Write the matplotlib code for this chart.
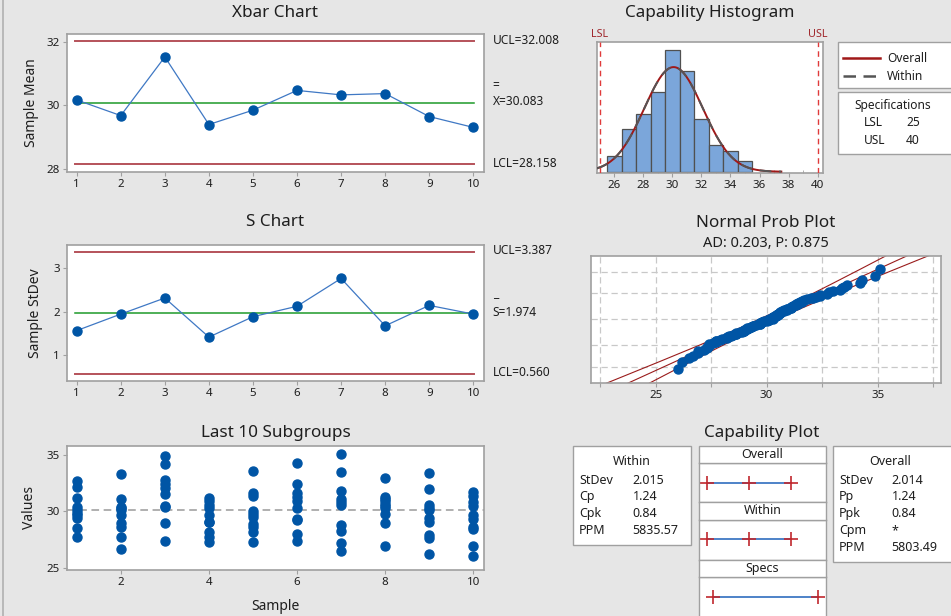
import numpy as np
import matplotlib
matplotlib.use("Agg")
import matplotlib.pyplot as plt
from matplotlib.lines import Line2D
from matplotlib.patches import Rectangle
from statistics import NormalDist

# ---------------- data ----------------
samples = list(range(1, 11))
xbar_means = [30.17, 29.68, 31.52, 29.40, 29.85, 30.47, 30.33, 30.37, 29.65, 29.31]
xbar_ucl, xbar_center, xbar_lcl = 32.008, 30.083, 28.158
s_values = [1.57, 1.95, 2.32, 1.42, 1.89, 2.13, 2.77, 1.68, 2.15, 1.95]
s_ucl, s_center, s_lcl = 3.387, 1.974, 0.560

subgroups = [
    [32.7, 32.2, 31.2, 30.4, 30.1, 29.9, 29.7, 29.4, 28.5, 27.7],
    [33.3, 31.1, 30.3, 30.4, 30.1, 29.7, 29.0, 28.6, 27.7, 26.7],
    [34.9, 34.2, 32.8, 32.4, 32.1, 31.5, 30.5, 30.4, 29.0, 27.4],
    [31.2, 30.9, 30.6, 30.3, 29.7, 29.1, 29.1, 28.2, 27.7, 27.3],
    [33.6, 31.6, 31.4, 30.0, 29.8, 29.5, 28.9, 28.6, 28.2, 27.3],
    [34.3, 32.4, 31.6, 31.3, 30.9, 30.3, 29.3, 29.2, 28.0, 27.4],
    [35.1, 33.5, 31.8, 31.1, 30.8, 30.6, 28.8, 28.3, 27.2, 26.5],
    [33.0, 31.3, 31.1, 30.9, 30.7, 30.5, 30.3, 29.8, 29.0, 26.9],
    [33.4, 32.0, 30.6, 30.3, 30.1, 29.4, 29.1, 27.9, 27.6, 26.2],
    [31.7, 31.4, 30.8, 30.5, 29.7, 29.3, 28.6, 28.4, 26.9, 26.0],
]

hist_bin_centers = [26, 27, 28, 29, 30, 31, 32, 33, 34, 35]
hist_counts = [3, 8, 11, 15, 23, 19, 10, 5, 4, 2]
lsl, usl = 25, 40
mean_all = 30.083
sd_within, sd_overall = 2.015, 2.014
n_total = 100

hist_ticks = [26, 28, 30, 32, 34, 36, 38, 40]
prob_levels = [1, 10, 50, 90, 99]
prob_ticks = [25, 30, 35]
ad_text = "AD: 0.203, P: 0.875"

within_labels = ["StDev", "Cp", "Cpk", "PPM"]
within_values = ["2.015", "1.24", "0.84", "5835.57"]
overall_labels = ["StDev", "Pp", "Ppk", "Cpm", "PPM"]
overall_values = ["2.014", "1.24", "0.84", "*", "5803.49"]

# ---------------- style ----------------
W, H = 951, 616
BG = "#E6E6E6"
SPINE = "#A0A0A0"
RED_CL = "#B5525A"
GREEN = "#1E9A2A"
BLUE_LINE = "#3F78C4"
BLUE_DOT = "#0055A5"
TXT = "#1E1E1E"
FONT = ["Noto Sans", "DejaVu Sans"]
plt.rcParams["font.family"] = FONT

TITLE_FS = 12.3
LABEL_FS = 10
TICK_FS = 8.3
SIDE_FS = 8.6
BOX_FS = 9

fig = plt.figure(figsize=(W / 100, H / 100), dpi=100, facecolor=BG)


def px_axes(l, t, r, b, **kw):
    return fig.add_axes([l / W, 1 - b / H, (r - l) / W, (b - t) / H], **kw)


def ftext(x, y, s, **kw):
    kw.setdefault("color", TXT)
    return fig.text(x / W, 1 - y / H, s, **kw)


def style_axes(ax):
    ax.set_facecolor("white")
    for sp in ax.spines.values():
        sp.set_color(SPINE)
        sp.set_linewidth(1.2)
    ax.tick_params(colors=SPINE, labelcolor=TXT, labelsize=TICK_FS, length=3, width=0.8, pad=2)


# left window border
fig.add_artist(Line2D([3 / W, 3 / W], [0, 1], color="#B0B0B0", lw=1.2))

# ---------------- Xbar chart ----------------
ax1 = px_axes(66.7, 34.3, 484.3, 171.7)
style_axes(ax1)
ax1.axhline(xbar_ucl, color=RED_CL, lw=1.4, xmin=0.02, xmax=0.975)
ax1.axhline(xbar_lcl, color=RED_CL, lw=1.4, xmin=0.02, xmax=0.975)
ax1.axhline(xbar_center, color=GREEN, lw=1.1, xmin=0.02, xmax=0.975)
ax1.plot(samples, xbar_means, color=BLUE_LINE, lw=0.9, marker="o", ms=6.5,
         mfc=BLUE_DOT, mec=BLUE_DOT)
ax1.set_xlim(0.773, 10.25)
ax1.set_ylim(27.92, 32.23)
ax1.set_xticks(samples)
ax1.set_yticks([28, 30, 32])
ax1.set_ylabel("Sample Mean", fontsize=LABEL_FS, color=TXT, labelpad=5)
ftext(275.5, 13, "Xbar Chart", fontsize=TITLE_FS, ha="center", va="center")
ftext(492.7, 40, "UCL=32.008", fontsize=SIDE_FS, va="center")
ftext(492.7, 86, "=", fontsize=SIDE_FS, va="center")
ftext(492.7, 101.7, "X=30.083", fontsize=SIDE_FS, va="center")
ftext(492.7, 163.3, "LCL=28.158", fontsize=SIDE_FS, va="center")

# ---------------- S chart ----------------
ax2 = px_axes(66.7, 245, 484.3, 381)
style_axes(ax2)
ax2.axhline(s_ucl, color=RED_CL, lw=1.4, xmin=0.02, xmax=0.975)
ax2.axhline(s_lcl, color=RED_CL, lw=1.4, xmin=0.02, xmax=0.975)
ax2.axhline(s_center, color=GREEN, lw=1.1, xmin=0.02, xmax=0.975)
ax2.plot(samples, s_values, color=BLUE_LINE, lw=0.9, marker="o", ms=6.5,
         mfc=BLUE_DOT, mec=BLUE_DOT)
ax2.set_xlim(0.773, 10.25)
ax2.set_ylim(0.41, 3.54)
ax2.set_xticks(samples)
ax2.set_yticks([1, 2, 3])
ax2.set_ylabel("Sample StDev", fontsize=LABEL_FS, color=TXT, labelpad=7)
ftext(275.5, 221.7, "S Chart", fontsize=TITLE_FS, ha="center", va="center")
ftext(492.7, 250, "UCL=3.387", fontsize=SIDE_FS, va="center")
ftext(492.7, 294, "_", fontsize=SIDE_FS, va="center")
ftext(492.7, 312.7, "S=1.974", fontsize=SIDE_FS, va="center")
ftext(492.7, 372.3, "LCL=0.560", fontsize=SIDE_FS, va="center")

# ---------------- Last 10 subgroups ----------------
ax3 = px_axes(66.7, 445.7, 484.3, 570)
style_axes(ax3)
ax3.axhline(mean_all, color="#9A9A9A", lw=1.1, ls=(0, (5, 3)))
for i, vals in zip(samples, subgroups):
    ax3.plot([i] * len(vals), vals, ls="none", marker="o", ms=6.5,
             mfc=BLUE_DOT, mec=BLUE_DOT)
ax3.set_xlim(0.773, 10.25)
ax3.set_ylim(24.8, 35.83)
ax3.set_xticks([2, 4, 6, 8, 10])
ax3.set_yticks([25, 30, 35])
ax3.set_ylabel("Values", fontsize=LABEL_FS, color=TXT, labelpad=7)
ax3.set_xlabel("Sample", fontsize=LABEL_FS, color=TXT, labelpad=8)
ftext(275.5, 432.7, "Last 10 Subgroups", fontsize=TITLE_FS, ha="center", va="center")

# ---------------- Capability histogram ----------------
ax4 = px_axes(596.7, 42.3, 823.3, 173.3)
style_axes(ax4)
ax4.bar(hist_bin_centers, hist_counts, width=1.0, color="#7BA6DA",
        edgecolor="#505050", lw=0.9, zorder=2)
xx = np.linspace(24.79, 37.5, 400)
scale = n_total * 1.0
pdf_over = scale * np.exp(-0.5 * ((xx - mean_all) / sd_overall) ** 2) / (sd_overall * np.sqrt(2 * np.pi))
pdf_with = scale * np.exp(-0.5 * ((xx - mean_all) / sd_within) ** 2) / (sd_within * np.sqrt(2 * np.pi))
ax4.plot(xx, pdf_over, color="#A01818", lw=1.4, zorder=3)
ax4.plot(xx, pdf_with, color="#555555", lw=1.4, ls=(0, (6, 4)), zorder=4)
ax4.axvline(lsl, color="#E03A3A", lw=1.0, ls=(0, (4, 3)), zorder=5)
ax4.axvline(usl, color="#E03A3A", lw=1.0, ls=(0, (4, 3)), zorder=5)
ax4.set_xlim(24.79, 40.39)
ax4.set_ylim(-0.3, 24.5)
ax4.set_xticks(hist_ticks)
ax4.set_xticks(np.arange(27, 40, 2), minor=True)
ax4.tick_params(axis="x", which="minor", direction="in", length=2, color=SPINE)
ax4.set_yticks([])
ftext(710, 13.3, "Capability Histogram", fontsize=TITLE_FS, ha="center", va="center")
ax4.text(lsl, 1.02, "LSL", transform=ax4.get_xaxis_transform(), ha="center", va="bottom",
         fontsize=7.8, color="#A0282D")
ax4.text(usl, 1.02, "USL", transform=ax4.get_xaxis_transform(), ha="center", va="bottom",
         fontsize=7.8, color="#A0282D")

# legend box
fig.add_artist(Rectangle((838.3 / W, 1 - 88.3 / H), 120 / W, 46 / H, transform=fig.transFigure,
                         facecolor="white", edgecolor=SPINE, lw=1.0))
fig.add_artist(Line2D([843.3 / W, 880 / W], [1 - 58 / H, 1 - 58 / H], color="#A01818", lw=1.8))
fig.add_artist(Line2D([843.3 / W, 880 / W], [1 - 76 / H, 1 - 76 / H], color="#555555", lw=1.8,
                      ls=(0, (5, 3))))
ftext(887, 58, "Overall", fontsize=SIDE_FS, va="center")
ftext(887, 76, "Within", fontsize=SIDE_FS, va="center")
# specifications box
fig.add_artist(Rectangle((838.3 / W, 1 - 154 / H), 120 / W, 62.3 / H, transform=fig.transFigure,
                         facecolor="white", edgecolor=SPINE, lw=1.0))
ftext(893, 105, "Specifications", fontsize=SIDE_FS, ha="center", va="center")
ftext(864, 123, "LSL", fontsize=SIDE_FS, va="center")
ftext(906, 123, str(lsl), fontsize=SIDE_FS, va="center")
ftext(864, 140, "USL", fontsize=SIDE_FS, va="center")
ftext(906, 140, str(usl), fontsize=SIDE_FS, va="center")

# ---------------- Normal probability plot ----------------
ax5 = px_axes(591, 256, 941, 382.7)
style_axes(ax5)
nd = NormalDist()
all_vals = np.sort(np.concatenate([np.array(v) for v in subgroups]))
nn = len(all_vals)
zs = np.array([nd.inv_cdf((i - 0.3) / (nn + 0.4)) for i in range(1, nn + 1)])
zgrid = [nd.inv_cdf(p / 100) for p in prob_levels]
for zg in zgrid:
    ax5.axhline(zg, color="#C8C8C8", lw=0.9, ls=(0, (5, 3)), zorder=1)
for xg in np.arange(22.5, 38.0, 2.5):
    ax5.axvline(xg, color="#C8C8C8", lw=0.9, ls=(0, (5, 3)), zorder=1)
zz = np.linspace(-3.3, 3.3, 200)
fit = mean_all + sd_overall * zz
half = 1.96 * sd_overall / np.sqrt(n_total) * np.sqrt(1 + zz ** 2 / 2)
ax5.plot(fit, zz, color="#9A1C1C", lw=0.8, zorder=2)
ax5.plot(fit - half, zz, color="#9A1C1C", lw=0.8, zorder=2)
ax5.plot(fit + half, zz, color="#9A1C1C", lw=0.8, zorder=2)
ax5.plot(all_vals, zs, ls="none", marker="o", ms=6.5, mfc=BLUE_DOT, mec=BLUE_DOT, zorder=3)
ax5.set_xlim(22.09, 37.85)
ax5.set_ylim(-3.12, 3.09)
ax5.set_xticks(np.arange(22.5, 38.0, 2.5))
ax5.set_xticklabels(["" if t not in prob_ticks else str(int(t)) for t in np.arange(22.5, 38.0, 2.5)])
ax5.set_yticks([])
ftext(766, 222.7, "Normal Prob Plot", fontsize=TITLE_FS, ha="center", va="center")
ftext(766, 243.3, ad_text, fontsize=10.5, ha="center", va="center")

# ---------------- Capability plot ----------------
ftext(762, 433.3, "Capability Plot", fontsize=TITLE_FS, ha="center", va="center")


def fig_box(l, t, r, b):
    fig.add_artist(Rectangle((l / W, 1 - b / H), (r - l) / W, (b - t) / H,
                             transform=fig.transFigure, facecolor="white",
                             edgecolor=SPINE, lw=1.0))


# within stats box
fig_box(573.3, 446, 691, 545)
ftext(631.7, 461.7, "Within", fontsize=BOX_FS, ha="center", va="center")
for k, (lab, val) in enumerate(zip(within_labels, within_values)):
    y = 480 + k * 16.9
    ftext(579, y, lab, fontsize=BOX_FS, va="center")
    ftext(632.7, y, val, fontsize=BOX_FS, va="center")

# overall stats box
fig_box(833.3, 446, 960, 561.7)
ftext(890, 461.7, "Overall", fontsize=BOX_FS, ha="center", va="center")
for k, (lab, val) in enumerate(zip(overall_labels, overall_values)):
    y = 480 + k * 16.9
    ftext(839, y, lab, fontsize=BOX_FS, va="center")
    ftext(891.7, y, val, fontsize=BOX_FS, va="center")

# middle column: headers and mini plots
headers = [("Overall", 446, 463.3), ("Within", 502, 520), ("Specs", 559.7, 576.7)]
for name, t, b in headers:
    fig_box(699, t, 825.7, b)
    ftext(762.3, (t + b) / 2, name, fontsize=BOX_FS, ha="center", va="center")

ranges = [
    (mean_all - 3 * sd_overall, mean_all, mean_all + 3 * sd_overall),
    (mean_all - 3 * sd_within, mean_all, mean_all + 3 * sd_within),
    (lsl, None, usl),
]
boxes = [(463.3, 502), (520, 559.7), (576.7, 622)]
line_y = [482.7, 539, 596.7]
for (t, b), (lo, mid, hi), ly in zip(boxes, ranges, line_y):
    axm = px_axes(699, t, 825.7, b)
    axm.set_facecolor("white")
    for sp in axm.spines.values():
        sp.set_color(SPINE)
        sp.set_linewidth(1.0)
    axm.set_xticks([])
    axm.set_yticks([])
    axm.set_xlim(22.96, 41.06)
    axm.set_ylim(b, t)
    axm.plot([lo, hi], [ly, ly], color="#3F78C4", lw=1.3)
    pts = [lo, hi] if mid is None else [lo, mid, hi]
    axm.plot(pts, [ly] * len(pts), ls="none", marker="+", ms=10, mew=1.2, color="#C0282D")

fig.savefig("out.png", dpi=100, facecolor=BG)
